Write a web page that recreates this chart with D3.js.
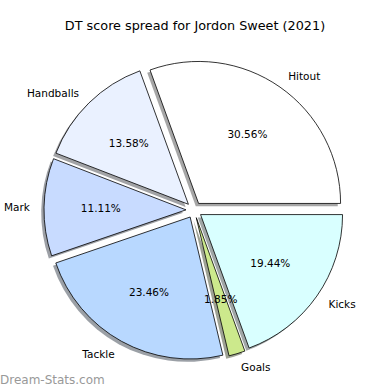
<!DOCTYPE html>
<html><head><meta charset="utf-8">
<script src="https://cdn.jsdelivr.net/npm/d3@7"></script>
<style>body{margin:0;background:#fff;} svg{display:block;}</style>
</head><body>
<script>
const categories = ["Hitout", "Handballs", "Mark", "Tackle", "Goals", "Kicks"];
const values = [99, 44, 36, 76, 6, 63];
const colors = ["#ffffff", "#eaf1ff", "#c8dbff", "#b8d8ff", "#cce98c", "#d9ffff"];
const title = "DT score spread for Jordon Sweet (2021)";
const watermark = "Dream-Stats.com";

const W = 390, H = 390;
const cx = 194, cy = 210, R = 142, explode = 8;
const svg = d3.select("body").append("svg").attr("width", W).attr("height", H);
const font = "DejaVu Sans, sans-serif";

svg.append("text").attr("x", 195).attr("y", 30).attr("text-anchor", "middle")
  .attr("font-family", font).attr("font-size", 12.8).attr("fill", "#000").text(title);

const pie = d3.pie().sort(null).value(d => d).startAngle(Math.PI / 2).endAngle(Math.PI / 2 - 2 * Math.PI);
const arcs = pie(values);
const arc = d3.arc().innerRadius(0).outerRadius(R);
const total = d3.sum(values);

const g = svg.append("g").attr("transform", `translate(${cx},${cy})`);
function offs(d, dist) {
  const m = (d.startAngle + d.endAngle) / 2;
  return [Math.sin(m) * dist, -Math.cos(m) * dist];
}
// shadows
arcs.forEach((d, i) => {
  const [ox, oy] = offs(d, explode);
  const c = d3.rgb(colors[i]);
  g.append("path").attr("d", arc(d))
    .attr("transform", `translate(${ox - 2.8},${oy + 2.8})`)
    .attr("fill", d3.rgb(c.r * 0.3, c.g * 0.3, c.b * 0.3)).attr("fill-opacity", 0.5);
});
// wedges
arcs.forEach((d, i) => {
  const [ox, oy] = offs(d, explode);
  g.append("path").attr("d", arc(d))
    .attr("transform", `translate(${ox},${oy})`)
    .attr("fill", colors[i]).attr("stroke", "#000").attr("stroke-width", 0.8)
    .attr("stroke-linejoin", "miter");
});
// labels
arcs.forEach((d, i) => {
  const [ox, oy] = offs(d, explode);
  const [lx, ly] = offs(d, R * 1.1);
  const m = (d.startAngle + d.endAngle) / 2;
  g.append("text").attr("x", ox + lx).attr("y", oy + ly)
    .attr("text-anchor", Math.sin(m) > 0 ? "start" : "end")
    .attr("dominant-baseline", "central")
    .attr("font-family", font).attr("font-size", 10.5).attr("fill", "#000")
    .text(categories[i]);
  const [px, py] = offs(d, R * 0.6);
  g.append("text").attr("x", ox + px).attr("y", oy + py)
    .attr("text-anchor", "middle").attr("dominant-baseline", "central")
    .attr("font-family", font).attr("font-size", 10.5).attr("fill", "#000")
    .text((values[i] / total * 100).toFixed(2) + "%");
});

svg.append("text").attr("x", 0).attr("y", 384)
  .attr("font-family", font).attr("font-size", 12).attr("fill", "#999")
  .text(watermark);
</script>
</body></html>
